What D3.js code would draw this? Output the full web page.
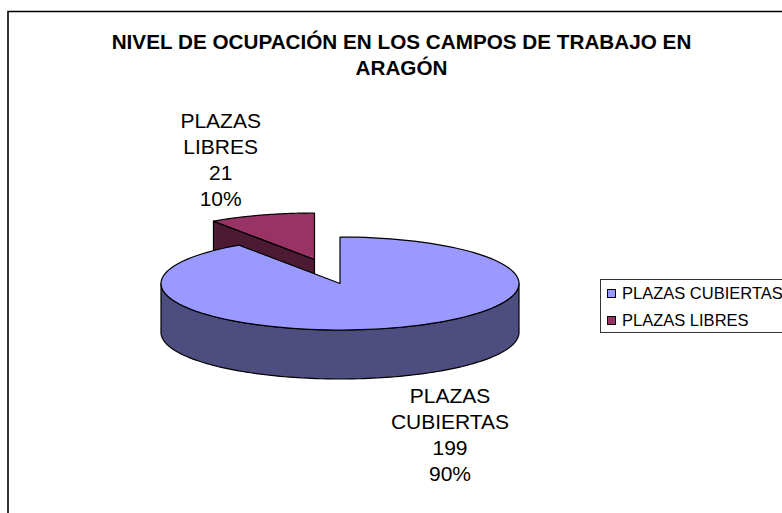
<!DOCTYPE html>
<html><head><meta charset="utf-8">
<script src="https://cdnjs.cloudflare.com/ajax/libs/d3/7.8.5/d3.min.js"></script>
<style>html,body{margin:0;padding:0;background:#fff;overflow:hidden}svg{display:block}text{font-family:"Liberation Sans",Arial,sans-serif;fill:#000}</style>
</head><body><svg id="c" width="782" height="513"></svg>
<script>
const titleLines = ["NIVEL DE OCUPACIÓN EN LOS CAMPOS DE TRABAJO EN","ARAGÓN"];
const categories = ["PLAZAS CUBIERTAS","PLAZAS LIBRES"];
const values = [199,21];
const labelLines = [["PLAZAS","CUBIERTAS","199","90%"],["PLAZAS","LIBRES","21","10%"]];
const topColors = ["#9999ff","#993366"];
const sideColors = ["#4d4d80","#4d1a33"];

const svg = d3.select("#c");
const cx = 340, cy = 283.5, rx = 179, ry = 46.5, depth = 49;
const explode = [[0,0],[-25.5,-24]];
const edge = "#000";

svg.append("path").attr("d","M782,11.5H8V513").attr("fill","none").attr("stroke","#000").attr("stroke-width",1.6);

const arcs = d3.pie().sort(null)(values);
const ex = d3.scaleLinear().domain([-1,1]).range([cx-rx,cx+rx]);
const ey = d3.scaleLinear().domain([-1,1]).range([cy-ry,cy+ry]);
const line = d3.line().x(d=>d[0]).y(d=>d[1]);
const rim = (a,o,dz,n=120)=>d3.range(n+1).map(i=>{
  const t=a.startAngle+(a.endAngle-a.startAngle)*i/n;
  return [ex(Math.sin(t))+o[0], ey(-Math.cos(t))+o[1]+dz];
});
function visibleSide(a,o){
  const s=Math.max(a.startAngle,Math.PI/2), e=Math.min(a.endAngle,3*Math.PI/2);
  if(e<=s) return null;
  const b={startAngle:s,endAngle:e};
  const top=rim(b,o,0), bot=rim(b,o,depth).reverse();
  return top.concat(bot);
}
function drawSlice(i){
  const a=arcs[i], o=explode[i];
  const apex=[ex(0)+o[0],ey(0)+o[1]];
  if(i===1){
    const p=rim(a,o,0)[0];
    const wall=[p,apex,[apex[0],apex[1]+depth],[p[0],p[1]+depth]];
    svg.append("path").attr("d",line(wall)+"Z").attr("fill",sideColors[i]).attr("stroke",edge).attr("stroke-width",1.2).attr("stroke-linejoin","round");
  }
  const side=visibleSide(a,o);
  if(side) svg.append("path").attr("d",line(side)+"Z").attr("fill",sideColors[i]).attr("stroke",edge).attr("stroke-width",1.2).attr("stroke-linejoin","round");
  svg.append("path").attr("d",line([apex].concat(rim(a,o,0)))+"Z").attr("fill",topColors[i]).attr("stroke",edge).attr("stroke-width",1.2).attr("stroke-linejoin","round");
}
drawSlice(1); drawSlice(0);

const multi=(lines,x,y0,dy,size,weight)=>lines.forEach((t,i)=>svg.append("text").attr("x",x).attr("y",y0+i*dy).attr("text-anchor","middle").attr("font-size",size).attr("font-weight",weight||"normal").text(t));
multi(titleLines,401.5,48.5,26,20.7,"bold");
multi(labelLines[1],220.7,128,25.9,21);
multi(labelLines[0],450,403,26,21);

// legend
svg.append("rect").attr("x",600.5).attr("y",279.5).attr("width",200).attr("height",53).attr("fill","#fff").attr("stroke","#333").attr("stroke-width",1);
const leg=d3.scalePoint().domain(categories).range([293,320]);
categories.forEach((c,i)=>{
  svg.append("rect").attr("x",607.5).attr("y",leg(c)-3.5).attr("width",8).attr("height",8).attr("fill",topColors[i]).attr("stroke","#000").attr("stroke-width",1);
  svg.append("text").attr("x",622).attr("y",leg(c)+5.5).attr("font-size",16.5).text(c);
});
</script></body></html>
